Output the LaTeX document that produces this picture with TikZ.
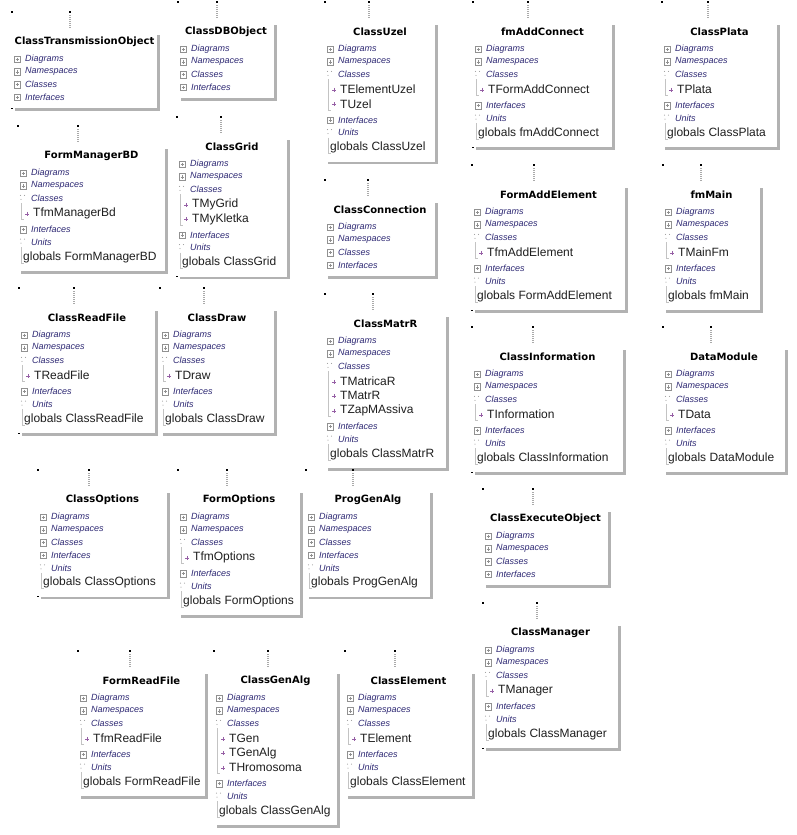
\documentclass[tikz,border=0pt]{standalone}
\usepackage{fontspec}
\setmainfont{Liberation Sans}
\newfontfamily\ttlfont{DejaVu Sans}
\pgfdeclarelayer{bg}
\pgfdeclarelayer{page}
\pgfsetlayers{page,bg,main}

\definecolor{shadowgray}{RGB}{178,178,178}
\definecolor{stubgray}{RGB}{170,170,170}
\definecolor{catblue}{RGB}{45,40,115}
\definecolor{treegray}{RGB}{195,195,195}
\definecolor{icongray}{RGB}{145,145,145}
\definecolor{markviolet}{RGB}{150,95,165}

\tikzset{
  ttl/.style={inner sep=0pt, font=\ttlfont\bfseries\fontsize{10}{12}\selectfont, text=black},
  cat/.style={anchor=west, inner sep=0pt, font=\itshape\fontsize{9}{11}\selectfont, text=catblue},
  entry/.style={anchor=west, inner sep=0pt, font=\fontsize{12}{14}\selectfont, text=black!88},
  pm/.style={draw=icongray, line width=0.5pt},
  bullet/.style={draw=markviolet, line width=0.7pt},
  stub/.style={draw=stubgray, line width=2.5pt, dash pattern=on 1pt off 1pt},
  tree/.style={draw=treegray, line width=0.8pt},
  handle/.style={fill=black},
  dotc/.style={fill=icongray},
  shade/.style={fill=shadowgray},
}

\newcount\lnum
% start a unit box: id, left, top, right, stub x, title
\newcommand\unitbox[6]{%
  \xdef\uid{#1}\xdef\uL{#2}\xdef\uT{#3}\xdef\uR{#4}%
  \global\lnum=0
  \pgfmathparse{(#2+#4)/2}\xdef\ucx{\pgfmathresult}%
  \node[ttl] (#1) at (\ucx,#3+7) {#6};
  \pgfmathparse{#3+24}\xdef\ly{\pgfmathresult}%
  \coordinate (#1-stubtop) at (#5,#3-20);
  \coordinate (#1-stubend) at (#5,#3-6);
  \draw[stub] (#1-stubtop) -- (#1-stubend);
  \fill[handle] (#2-0.6,#3-23.6) rectangle (#2+0.6,#3-22.4);
  \fill[handle] (#5-0.6,#3-23.6) rectangle (#5+0.6,#3-22.4);
}
% collapsed category line
\newcommand\ucat[1]{%
  \global\advance\lnum by 1
  \edef\nn{\uid-\the\lnum}%
  \draw[pm] (\uL+2,\ly-3) rectangle (\uL+8.5,\ly+3.5);
  \draw[pm] (\uL+3.5,\ly+0.25) -- (\uL+7,\ly+0.25);
  \draw[pm] (\uL+5.25,\ly-1.5) -- (\uL+5.25,\ly+2);
  \node[cat] (\nn) at (\uL+13,\ly) {#1};
  \pgfmathparse{\ly+12.7}\xdef\ly{\pgfmathresult}%
}
% expanded category line
\newcommand\uopen[1]{%
  \global\advance\lnum by 1
  \edef\nn{\uid-\the\lnum}%
  \fill[dotc] (\uL+2.5,\ly-3) circle (0.55);
  \fill[dotc] (\uL+6.5,\ly-3) circle (0.55);
  \fill[dotc] (\uL+3,\ly+1) circle (0.55);
  \node[cat] (\nn) at (\uL+13,\ly) {#1};
  \xdef\utt{\ly}%
  \pgfmathparse{\ly+15}\xdef\ly{\pgfmathresult}%
}
% class entry under an expanded category
\newcommand\uitem[1]{%
  \global\advance\lnum by 1
  \edef\nn{\uid-\the\lnum}%
  \draw[bullet] (\uL+7,\ly+0.5) -- (\uL+11,\ly+0.5);
  \draw[bullet] (\uL+9,\ly-1.5) -- (\uL+9,\ly+2.5);
  \node[entry] (\nn) at (\uL+15,\ly) {#1};
  \xdef\ulast{\ly}%
  \pgfmathparse{\ly+14.5}\xdef\ly{\pgfmathresult}%
}
% closing tree line of a class list
\newcommand\uendtree{%
  \draw[tree] (\uL+3,\utt+5) -- (\uL+3,\ulast+6) -- (\uL+6,\ulast+6);
  \pgfmathparse{\ly+1.5}\xdef\ly{\pgfmathresult}%
}
% globals entry under Units
\newcommand\uglob[1]{%
  \global\advance\lnum by 1
  \edef\nn{\uid-\the\lnum}%
  \draw[tree] (\uL+3,\utt+5) -- (\uL+3,\ly+6) -- (\uL+6,\ly+6);
  \node[entry] (\nn) at (\uL+5,\ly) {#1};
  \pgfmathparse{\ly+15.5}\xdef\ly{\pgfmathresult}%
}
% finish the box: white body and drop shadow
\newcommand\uclose{%
  \pgfmathparse{\ly-1.5}\xdef\uB{\pgfmathresult}%
  \coordinate (\uid-se) at (\uR,\uB);
  \begin{pgfonlayer}{bg}
    \fill[white] (\uL,\uT) rectangle (\uR,\uB);
    \fill[shade] (\uR,\uT) rectangle (\uR+2.5,\uB+2.5);
    \fill[shade] (\uL+3,\uB) rectangle (\uR,\uB+2.5);
  \end{pgfonlayer}
}
% lower left handle
\newcommand\ubl{%
  \fill[handle] (\uL-0.6,\uB-0.6) rectangle (\uL+0.6,\uB+0.6);
}

\begin{document}
\begin{tikzpicture}[x=1pt,y=-1pt]
\begin{pgfonlayer}{page}
\fill[white] (0,0) rectangle (796,835);
\end{pgfonlayer}
\useasboundingbox (0,0) rectangle (796,835);

% ---- first row
\unitbox{transobj}{12}{35}{157}{70}{ClassTransmissionObject}
\ucat{Diagrams}\ucat{Namespaces}\ucat{Classes}\ucat{Interfaces}\uclose\ubl

\unitbox{dbobj}{178}{25}{274}{217}{ClassDBObject}
\ucat{Diagrams}\ucat{Namespaces}\ucat{Classes}\ucat{Interfaces}\uclose

\unitbox{uzel}{325}{25}{435}{369}{ClassUzel}
\ucat{Diagrams}\ucat{Namespaces}\uopen{Classes}\uitem{TElementUzel}\uitem{TUzel}\uendtree
\ucat{Interfaces}\uopen{Units}\uglob{globals ClassUzel}\uclose

\unitbox{addconn}{473}{25}{612}{528}{fmAddConnect}
\ucat{Diagrams}\ucat{Namespaces}\uopen{Classes}\uitem{TFormAddConnect}\uendtree
\ucat{Interfaces}\uopen{Units}\uglob{globals fmAddConnect}\uclose\ubl

\unitbox{plata}{662}{25}{777}{708}{ClassPlata}
\ucat{Diagrams}\ucat{Namespaces}\uopen{Classes}\uitem{TPlata}\uendtree
\ucat{Interfaces}\uopen{Units}\uglob{globals ClassPlata}\uclose

% ---- second row
\unitbox{mgrbd}{18}{149}{165}{78}{FormManagerBD}
\ucat{Diagrams}\ucat{Namespaces}\uopen{Classes}\uitem{TfmManagerBd}\uendtree
\ucat{Interfaces}\uopen{Units}\uglob{globals FormManagerBD}\uclose

\unitbox{grid}{177}{140}{287}{221}{ClassGrid}
\ucat{Diagrams}\ucat{Namespaces}\uopen{Classes}\uitem{TMyGrid}\uitem{TMyKletka}\uendtree
\ucat{Interfaces}\uopen{Units}\uglob{globals ClassGrid}\uclose\ubl

\unitbox{conn}{325}{203}{435}{368}{ClassConnection}
\ucat{Diagrams}\ucat{Namespaces}\ucat{Classes}\ucat{Interfaces}\uclose

\unitbox{addelem}{472}{188}{625}{534}{FormAddElement}
\ucat{Diagrams}\ucat{Namespaces}\uopen{Classes}\uitem{TfmAddElement}\uendtree
\ucat{Interfaces}\uopen{Units}\uglob{globals FormAddElement}\uclose\ubl

\unitbox{fmmain}{663}{188}{760}{701}{fmMain}
\ucat{Diagrams}\ucat{Namespaces}\uopen{Classes}\uitem{TMainFm}\uendtree
\ucat{Interfaces}\uopen{Units}\uglob{globals fmMain}\uclose

% ---- third row
\unitbox{readfile}{19}{311}{155}{74}{ClassReadFile}
\ucat{Diagrams}\ucat{Namespaces}\uopen{Classes}\uitem{TReadFile}\uendtree
\ucat{Interfaces}\uopen{Units}\uglob{globals ClassReadFile}\uclose\ubl

\unitbox{draw}{160}{311}{274}{204}{ClassDraw}
\ucat{Diagrams}\ucat{Namespaces}\uopen{Classes}\uitem{TDraw}\uendtree
\ucat{Interfaces}\uopen{Units}\uglob{globals ClassDraw}\uclose

\unitbox{matrr}{325}{317}{446}{373}{ClassMatrR}
\ucat{Diagrams}\ucat{Namespaces}\uopen{Classes}\uitem{TMatricaR}\uitem{TMatrR}\uitem{TZapMAssiva}\uendtree
\ucat{Interfaces}\uopen{Units}\uglob{globals ClassMatrR}\uclose

\unitbox{info}{472}{350}{623}{533}{ClassInformation}
\ucat{Diagrams}\ucat{Namespaces}\uopen{Classes}\uitem{TInformation}\uendtree
\ucat{Interfaces}\uopen{Units}\uglob{globals ClassInformation}\uclose\ubl

\unitbox{datamod}{663}{350}{785}{711}{DataModule}
\ucat{Diagrams}\ucat{Namespaces}\uopen{Classes}\uitem{TData}\uendtree
\ucat{Interfaces}\uopen{Units}\uglob{globals DataModule}\uclose

% ---- fourth row
\unitbox{options}{38}{493}{167}{89}{ClassOptions}
\ucat{Diagrams}\ucat{Namespaces}\ucat{Classes}\ucat{Interfaces}\uopen{Units}\uglob{globals ClassOptions}\uclose\ubl

\unitbox{fmoptions}{178}{493}{300}{227}{FormOptions}
\ucat{Diagrams}\ucat{Namespaces}\uopen{Classes}\uitem{TfmOptions}\uendtree
\ucat{Interfaces}\uopen{Units}\uglob{globals FormOptions}\uclose

\unitbox{proggen}{306}{493}{430}{353}{ProgGenAlg}
\ucat{Diagrams}\ucat{Namespaces}\ucat{Classes}\ucat{Interfaces}\uopen{Units}\uglob{globals ProgGenAlg}\uclose

\unitbox{execobj}{483}{512}{608}{533}{ClassExecuteObject}
\ucat{Diagrams}\ucat{Namespaces}\ucat{Classes}\ucat{Interfaces}\uclose

\unitbox{manager}{483}{626}{618}{537}{ClassManager}
\ucat{Diagrams}\ucat{Namespaces}\uopen{Classes}\uitem{TManager}\uendtree
\ucat{Interfaces}\uopen{Units}\uglob{globals ClassManager}\uclose\ubl

% ---- bottom row
\unitbox{fmreadfile}{78}{674}{205}{130}{FormReadFile}
\ucat{Diagrams}\ucat{Namespaces}\uopen{Classes}\uitem{TfmReadFile}\uendtree
\ucat{Interfaces}\uopen{Units}\uglob{globals FormReadFile}\uclose

\unitbox{genalg}{214}{674}{337}{268}{ClassGenAlg}
\ucat{Diagrams}\ucat{Namespaces}\uopen{Classes}\uitem{TGen}\uitem{TGenAlg}\uitem{THromosoma}\uendtree
\ucat{Interfaces}\uopen{Units}\uglob{globals ClassGenAlg}\uclose

\unitbox{element}{345}{674}{472}{395}{ClassElement}
\ucat{Diagrams}\ucat{Namespaces}\uopen{Classes}\uitem{TElement}\uendtree
\ucat{Interfaces}\uopen{Units}\uglob{globals ClassElement}\uclose
\end{tikzpicture}
\end{document}
